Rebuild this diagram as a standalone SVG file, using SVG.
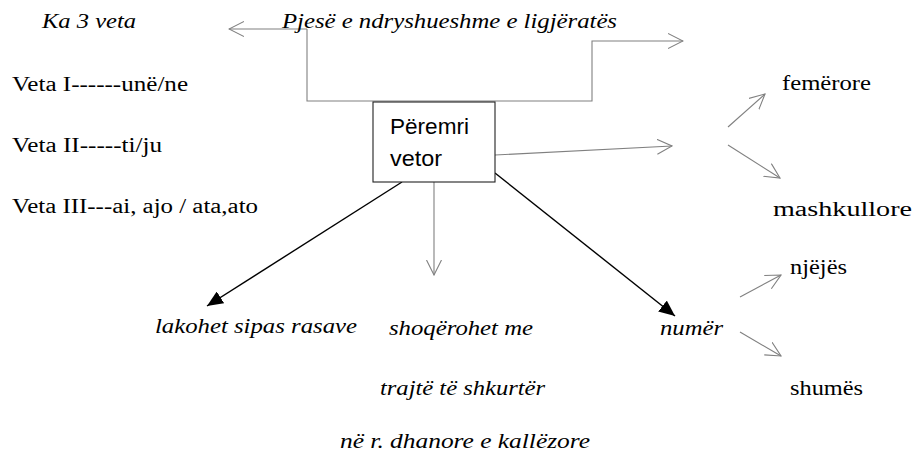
<svg xmlns="http://www.w3.org/2000/svg" width="913" height="461" viewBox="0 0 913 461">
<defs>
<style>
.bg{fill:#ffffff}
.t{font-family:'Liberation Serif','Times New Roman',Times,serif;font-size:20px;fill:#000}
.i{font-style:italic}
.s{font-family:'Liberation Sans',Arial,sans-serif;font-size:22px;fill:#000}
.g{fill:none;stroke:#808080;stroke-width:1.1}
.k{fill:none;stroke:#000;stroke-width:1.4}
.box{fill:#fff;stroke:#222;stroke-width:1.1}
</style>
<marker id="open" viewBox="0 0 16 16" refX="15" refY="8" markerWidth="16" markerHeight="16" markerUnits="userSpaceOnUse" orient="auto">
<path d="M0,0.5 L15,8 L0,15.5" fill="none" stroke="#808080" stroke-width="1.1"/>
</marker>
<marker id="solid" viewBox="0 0 16 14" refX="16" refY="7" markerWidth="16" markerHeight="14" markerUnits="userSpaceOnUse" orient="auto">
<path d="M0,0 L16,7 L0,14 Z" fill="#000"/>
</marker>
</defs>
<rect class="bg" x="0" y="0" width="913" height="461"/>

<g id="connectors">
<polyline class="g" points="307,29 307,101 592,101 592,41 683,41" marker-end="url(#open)"/>
<line class="g" x1="307" y1="29" x2="229" y2="29" marker-end="url(#open)"/>
<line class="g" x1="495" y1="155" x2="672" y2="146" marker-end="url(#open)"/>
<line class="g" x1="728" y1="127" x2="765" y2="94" marker-end="url(#open)"/>
<line class="g" x1="728" y1="145" x2="780" y2="178" marker-end="url(#open)"/>
<line class="g" x1="740" y1="297" x2="781" y2="275" marker-end="url(#open)"/>
<line class="g" x1="740" y1="332" x2="781" y2="356" marker-end="url(#open)"/>
<line class="g" x1="434" y1="182" x2="434" y2="275" marker-end="url(#open)"/>
<line class="k" x1="402" y1="182" x2="207" y2="306" marker-end="url(#solid)"/>
<line class="k" x1="495" y1="173" x2="675" y2="316" marker-end="url(#solid)"/>
</g>

<g id="n-peremri">
<rect class="box" x="373" y="102" width="122" height="80"/>
<text class="s" x="390" y="134" textLength="79" lengthAdjust="spacingAndGlyphs">Përemri</text>
<text class="s" x="390" y="166" textLength="52" lengthAdjust="spacingAndGlyphs">vetor</text>
</g>

<g id="n-ka3veta">
<text class="t i" font-family="Liberation Serif" x="42" y="28" textLength="94" lengthAdjust="spacingAndGlyphs">Ka 3 veta</text>
</g>
<g id="n-pjese">
<text class="t i" font-family="Liberation Serif" x="282" y="28" textLength="335" lengthAdjust="spacingAndGlyphs">Pjesë e ndryshueshme e ligjëratës</text>
</g>
<g id="n-veta1">
<text class="t" font-family="Liberation Serif" x="12" y="91" textLength="176" lengthAdjust="spacingAndGlyphs">Veta I------unë/ne</text>
</g>
<g id="n-veta2">
<text class="t" font-family="Liberation Serif" x="12" y="152" textLength="150" lengthAdjust="spacingAndGlyphs">Veta II-----ti/ju</text>
</g>
<g id="n-veta3">
<text class="t" font-family="Liberation Serif" x="12" y="213" textLength="246" lengthAdjust="spacingAndGlyphs">Veta III---ai, ajo / ata,ato</text>
</g>
<g id="n-femerore">
<text class="t" font-family="Liberation Serif" x="782" y="90" textLength="89" lengthAdjust="spacingAndGlyphs">femërore</text>
</g>
<g id="n-mashkullore">
<text class="t" font-family="Liberation Serif" x="773" y="216" textLength="139" lengthAdjust="spacingAndGlyphs">mashkullore</text>
</g>
<g id="n-lakohet">
<text class="t i" font-family="Liberation Serif" x="155" y="333" textLength="202" lengthAdjust="spacingAndGlyphs">lakohet sipas rasave</text>
</g>
<g id="n-shoqerohet">
<text class="t i" font-family="Liberation Serif" x="389" y="335" textLength="144" lengthAdjust="spacingAndGlyphs">shoqërohet me</text>
<text class="t i" font-family="Liberation Serif" x="380" y="395" textLength="165" lengthAdjust="spacingAndGlyphs">trajtë të shkurtër</text>
<text class="t i" font-family="Liberation Serif" x="340" y="448" textLength="250" lengthAdjust="spacingAndGlyphs">në r. dhanore e kallëzore</text>
</g>
<g id="n-numer">
<text class="t i" font-family="Liberation Serif" x="660" y="335" textLength="63" lengthAdjust="spacingAndGlyphs">numër</text>
</g>
<g id="n-njejes">
<text class="t" font-family="Liberation Serif" x="790" y="274" textLength="57" lengthAdjust="spacingAndGlyphs">njëjës</text>
</g>
<g id="n-shumes">
<text class="t" font-family="Liberation Serif" x="790" y="395" textLength="73" lengthAdjust="spacingAndGlyphs">shumës</text>
</g>
</svg>
